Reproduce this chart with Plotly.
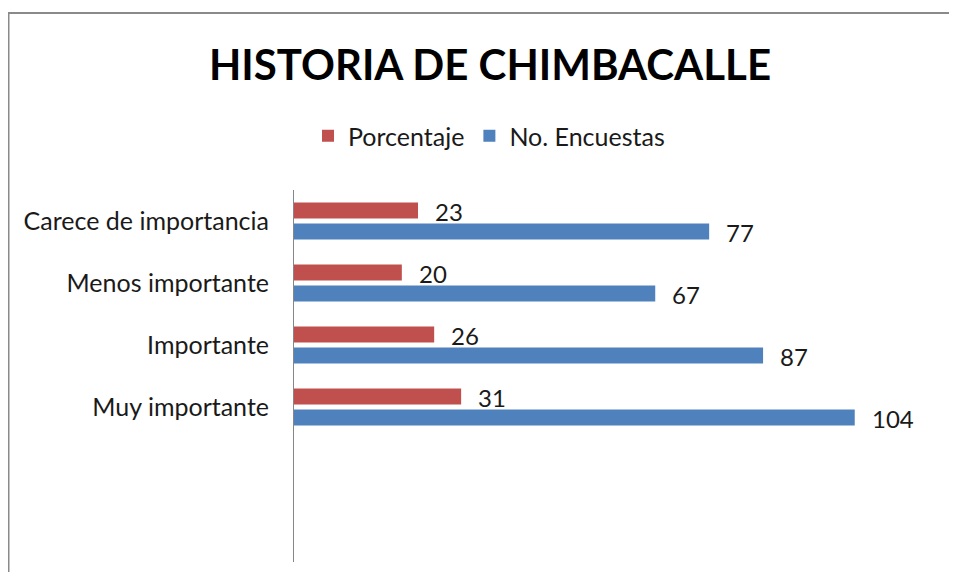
import plotly.graph_objects as go

categories = ["Carece de importancia", "Menos importante", "Importante", "Muy importante"]
porcentaje = [23, 20, 26, 31]
encuestas = [77, 67, 87, 104]
series_names = ["Porcentaje", "No. Encuestas"]
title_text = "HISTORIA DE CHIMBACALLE"

RED = "#C0504D"
BLUE = "#4F81BD"
FONT = "Lato, 'Open Sans', sans-serif"
TXT = "#1a1a1a"

# page body has an 8px margin; figure coordinates are page coordinates - 8
W, H = 941, 564
L, R, T, B = 286, 8, 182, 10
BW = 0.258

fig = go.Figure()
fig.add_trace(go.Bar(
    y=categories, x=porcentaje, name=series_names[0], orientation="h",
    marker=dict(color=RED, line=dict(width=0)), width=BW, offset=-0.298,
    hoverinfo="skip"))
fig.add_trace(go.Bar(
    y=categories, x=encuestas, name=series_names[1], orientation="h",
    marker=dict(color=BLUE, line=dict(width=0)), width=BW, offset=0.040,
    hoverinfo="skip"))

annotations = []
for c, v in zip(categories, porcentaje):
    annotations.append(dict(x=v, y=c, xref="x", yref="y", text=str(v), showarrow=False,
                            xanchor="left", yanchor="middle", xshift=15, yshift=10,
                            font=dict(family=FONT, size=24, color=TXT)))
for c, v in zip(categories, encuestas):
    annotations.append(dict(x=v, y=c, xref="x", yref="y", text=str(v), showarrow=False,
                            xanchor="left", yanchor="middle", xshift=15, yshift=-11,
                            font=dict(family=FONT, size=24, color=TXT)))

pw = W - L - R
ph = H - T - B
def px_to_paper_x(px):
    return (px - L) / pw
def px_to_paper_y(py):
    return (H - B - py) / ph

shapes = [
    dict(type="line", xref="paper", yref="paper",
         x0=px_to_paper_x(0), x1=px_to_paper_x(W),
         y0=px_to_paper_y(5), y1=px_to_paper_y(5),
         line=dict(color="#8a8a8a", width=2)),
    dict(type="line", xref="paper", yref="paper",
         x0=px_to_paper_x(0.5), x1=px_to_paper_x(0.5),
         y0=px_to_paper_y(5), y1=px_to_paper_y(H + 5),
         line=dict(color="#8a8a8a", width=2)),
]

fig.update_layout(
    width=W, height=H,
    margin=dict(l=L, r=R, t=T, b=B),
    paper_bgcolor="white", plot_bgcolor="white",
    barmode="overlay",
    title=dict(text="<b>" + title_text + "</b>", x=482 / W, xref="container", xanchor="center",
               y=1 - 57 / H, yref="container", yanchor="middle",
               font=dict(family=FONT, size=42, color="black")),
    legend=dict(orientation="h", x=481 / W, xref="container", xanchor="center",
                y=1 - 128 / H, yref="container", yanchor="middle",
                font=dict(family=FONT, size=25, color=TXT),
                itemwidth=30, traceorder="normal"),
    xaxis=dict(range=[0, 120], visible=False, fixedrange=True),
    yaxis=dict(type="category", categoryorder="array", categoryarray=categories,
               range=[5.5, -0.5], showline=True, linecolor="#868686", linewidth=1,
               showgrid=False, zeroline=False, ticks="", ticklabelstandoff=19,
               tickfont=dict(family=FONT, size=25, color=TXT), fixedrange=True),
    annotations=annotations,
    shapes=shapes,
    showlegend=True,
)

fig.write_html("out.html", config={"displayModeBar": False})
